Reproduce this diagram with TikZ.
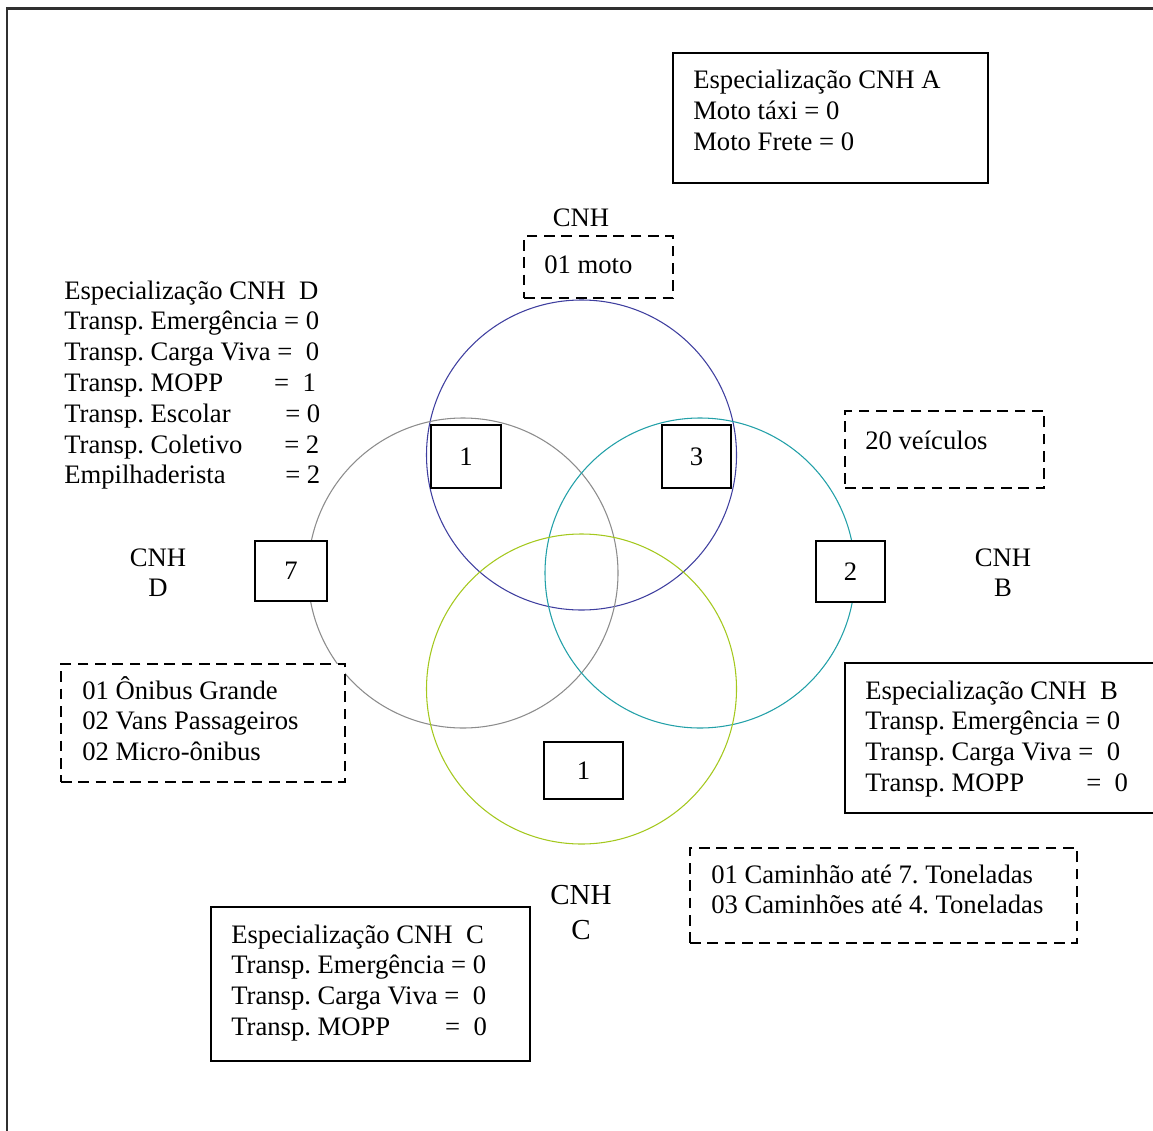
\documentclass[tikz,border=0pt]{standalone}
\usepackage{fontspec}
\setmainfont{Liberation Serif}
\usetikzlibrary{fit}
\frenchspacing

% one pixel of the layout grid
\newdimen\pxu \pxu=0.75pt
% label padded to a fixed width, then the rest of the line
\newcommand\eqat[3]{\makebox[#2\pxu][l]{#1}#3}
\newcommand\rows[1]{\begin{tabular}[t]{@{}l@{}}#1\end{tabular}}
\newcommand\crows[1]{\begin{tabular}[t]{@{}c@{}}#1\end{tabular}}

\definecolor{ringA}{HTML}{3F3F9F}
\definecolor{ringD}{HTML}{8C8C8C}
\definecolor{ringB}{HTML}{22A0A8}
\definecolor{ringC}{HTML}{A4C81E}
\definecolor{framecol}{HTML}{303030}

\tikzset{
  basefont/.style={font=\fontsize{20}{23.1}\selectfont\frenchspacing},
  ring/.style={circle, draw=#1, line width=0.8pt, minimum size=232.5pt,
    inner sep=0pt, outer sep=0pt},
  solidbox/.style={draw, fill=white, line width=1.5pt, inner sep=0pt,
    outer sep=0pt},
  numbox/.style={solidbox, label={[basefont, inner sep=0pt]center:#1}},
  dashbox/.style={draw, fill=white, line width=2.1pt,
    dash pattern=on 8pt off 5pt, inner sep=0pt, outer sep=0pt},
  txt/.style={inner sep=0pt, anchor=base west, basefont},
  ctxt/.style={inner sep=0pt, anchor=base, basefont},
  bigtxt/.style={inner sep=0pt, anchor=base,
    font=\fontsize{21.75}{26.25}\selectfont},
  frame/.style={draw=framecol, line width=1.8pt},
}

\begin{document}
\begin{tikzpicture}[x=0.75pt, y=-0.75pt]
\useasboundingbox (0,0) rectangle (1153,1131);
\clip (0,0) rectangle (1153,1131);

% page frame
\coordinate (frameBL) at (7,1145);
\coordinate (frameTL) at (7,8.5);
\coordinate (frameTR) at (1165,8.5);
\draw[frame] (frameBL) -- (frameTL) -- (frameTR);

% the four licence categories
\node[ring=ringA] (cA) at (581.5,455) {};
\node[ring=ringD] (cD) at (463,573) {};
\node[ring=ringB] (cB) at (700,573) {};
\node[ring=ringC] (cC) at (581.5,689) {};

% counts inside the circles
\node[numbox=1, fit={(431,425)(501,488)}] (nAD) {};
\node[numbox=3, fit={(662,425)(731,488)}] (nAB) {};
\node[numbox=7, fit={(255,541)(327,601)}] (nD) {};
\node[numbox=2, fit={(816,541)(885,602)}] (nB) {};
\node[numbox=1, fit={(544,742)(623,799)}] (nC) {};

% category A
\node[solidbox, fit={(673,53)(988,183)}] (boxA) {};
\node[txt] (specA) at (693,89)
  {\rows{Especialização CNH A\\Moto táxi = 0\\Moto Frete = 0}};
\node[ctxt] (labA) at (581,226) {CNH};
\node[dashbox, fit={(524,236)(673,298)}] (vehA) {};
\node[txt] (vehAT) at (544,273) {01 moto};

% category B
\node[dashbox, fit={(845,411)(1044,488)}] (vehB) {};
\node[txt] (vehBT) at (865,449) {20 veículos};
\node[ctxt] (labB) at (1003,566) {\crows{CNH\\B}};
\node[solidbox, fit={(845,663)(1170,813)}] (boxB) {};
\node[txt] (specB) at (865,699)
  {\rows{Especialização CNH\ \ B\\
         Transp. Emergência = 0\\
         Transp. Carga Viva =\ \ 0\\
         \eqat{Transp. MOPP}{221}{=\ \ 0}}};

% category C
\node[dashbox, fit={(690,848)(1077,943)}] (vehC) {};
\node[txt] (vehCT) at (711,883)
  {\rows{01 Caminhão até 7. Toneladas\\03 Caminhões até 4. Toneladas}};
\node[bigtxt] (labC) at (581,904) {\crows{CNH\\C}};
\node[solidbox, fit={(211,907)(530,1061)}] (boxC) {};
\node[txt] (specC) at (231,943)
  {\rows{Especialização CNH\ \ C\\
         Transp. Emergência = 0\\
         Transp. Carga Viva =\ \ 0\\
         \eqat{Transp. MOPP}{214}{=\ \ 0}}};

% category D
\node[txt] (specD) at (64,299)
  {\rows{Especialização CNH\ \ D\\
         Transp. Emergência = 0\\
         Transp. Carga Viva =\ \ 0\\
         \eqat{Transp. MOPP}{210}{=\ \ 1}\\
         \eqat{Transp. Escolar}{221}{= 0}\\
         \eqat{Transp. Coletivo}{220}{= 2}\\
         \eqat{Empilhaderista}{221}{= 2}}};
\node[ctxt] (labD) at (158,566) {\crows{CNH\\D}};
\node[dashbox, fit={(61,664)(345,782)}] (vehD) {};
\node[txt] (vehDT) at (82,699)
  {\rows{01 Ônibus Grande\\02 Vans Passageiros\\02 Micro-ônibus}};
\end{tikzpicture}
\end{document}
